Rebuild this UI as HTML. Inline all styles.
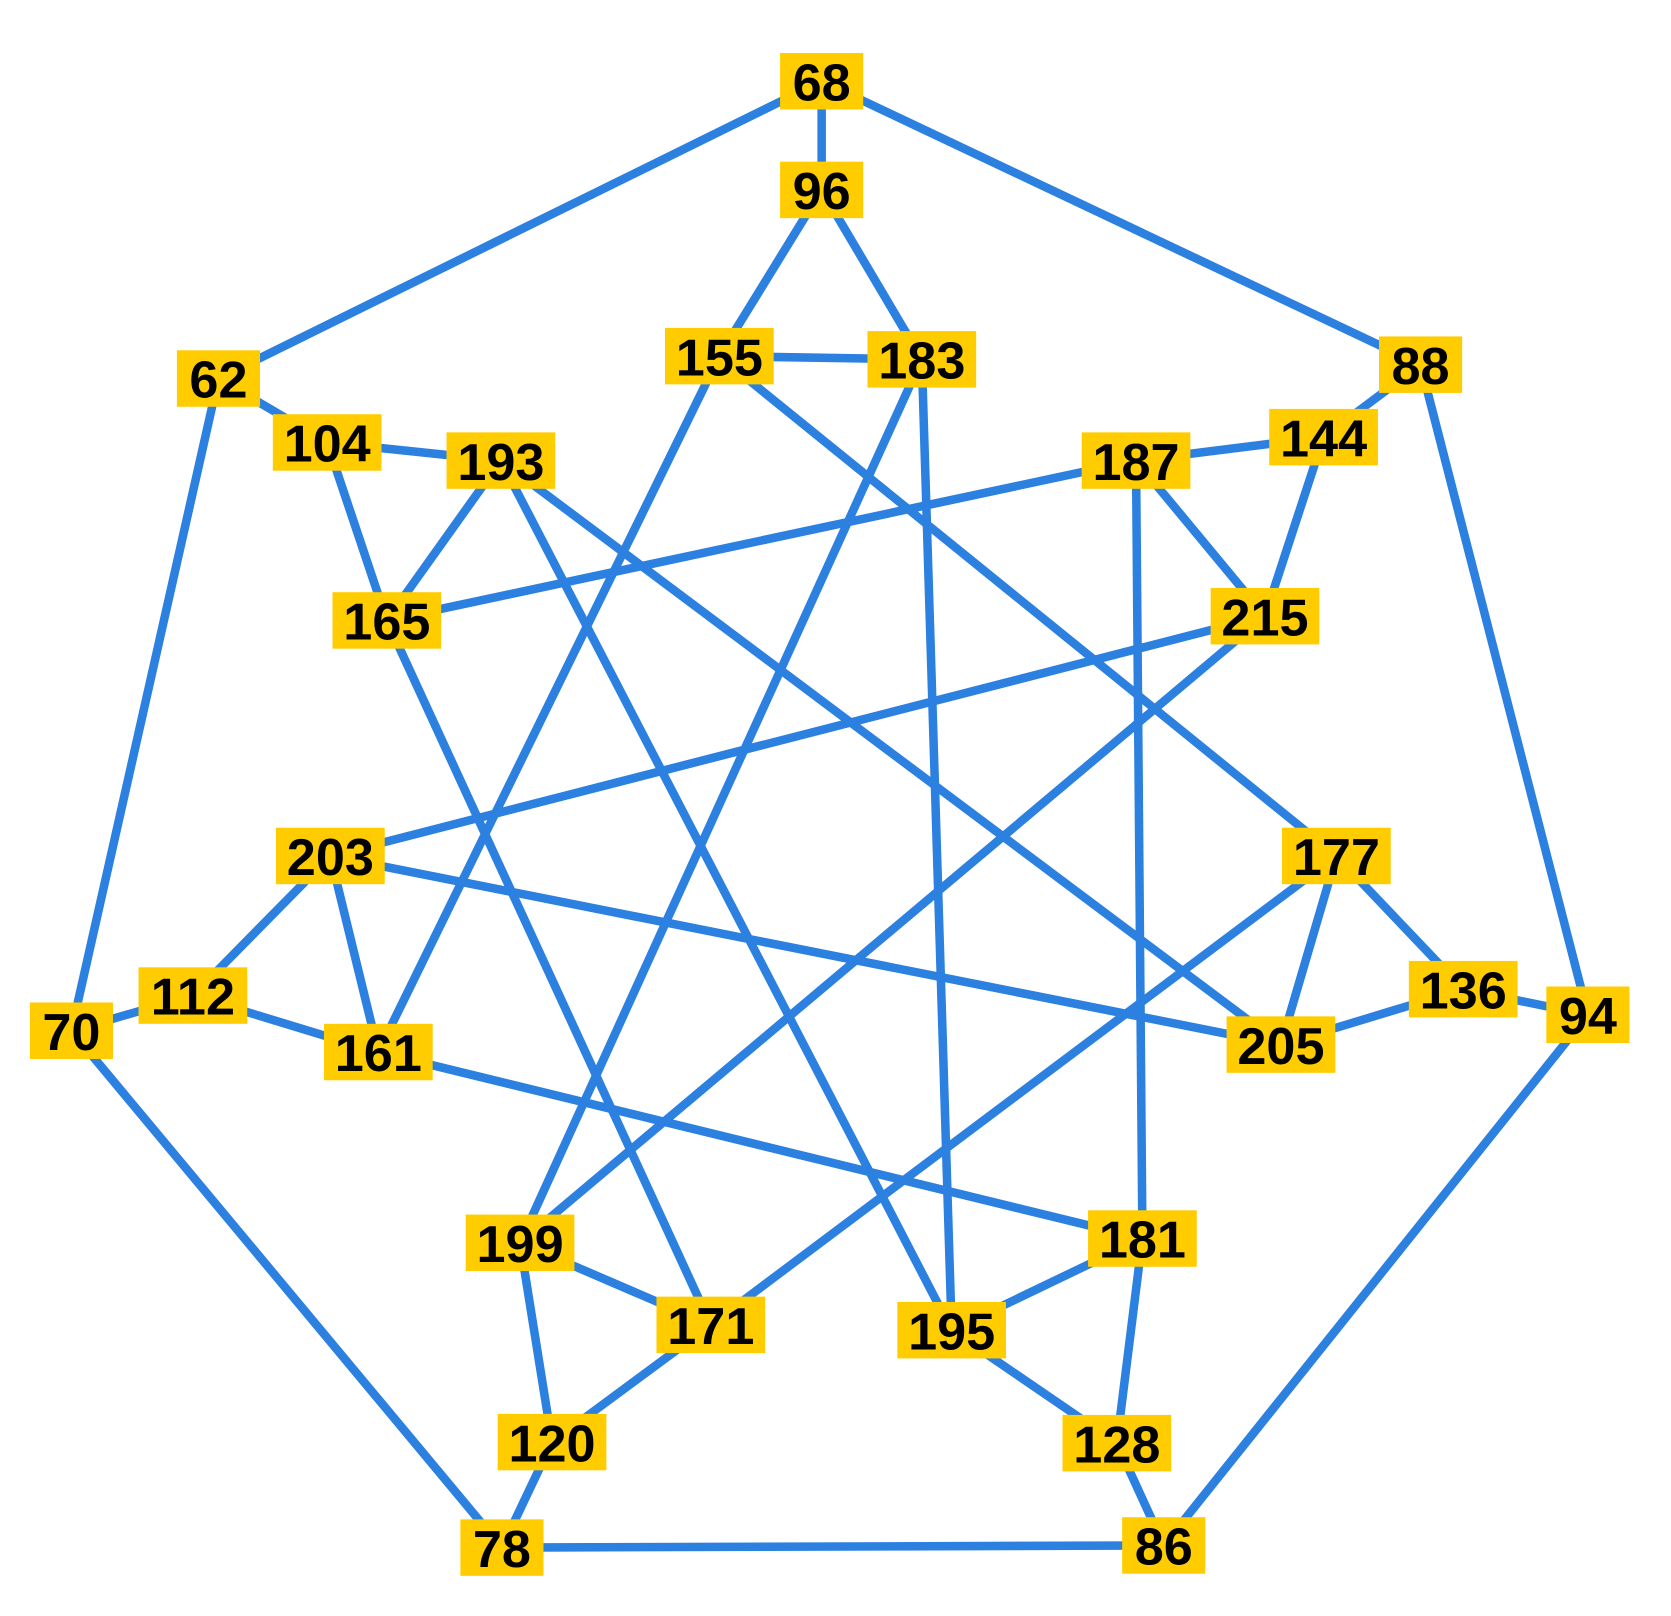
<!DOCTYPE html>
<html><head><meta charset="utf-8"><style>
html,body{margin:0;padding:0;background:#fff;}
svg{display:block;}
text{font-family:"Liberation Sans",sans-serif;font-size:49px;font-weight:bold;fill:#000;}
</style></head><body>
<svg id="g" width="1671" height="1616" viewBox="0 0 1568 1516" xmlns="http://www.w3.org/2000/svg">
<g id="edges"></g>
<g id="nodes"></g>
</svg>
<script>
const nodeIds = ["68","96","62","88","155","183","104","193","187","144","165","215","203","177","112","70","161","136","94","205","199","181","171","195","120","128","78","86"];
const nodeX = [771,771,205,1333,675,865,307,470,1066,1242,363,1187,310,1254,181,67,355,1373,1490,1202,488,1072,667,893,518,1048,471,1092];
const nodeY = [76,178,355,342,334,337,415,432,432,410,582,578,803,803,934,967,987,928,952,980,1166,1162,1243,1248,1353,1354,1452,1450];
const edgeFrom = ["68","68","68","96","96","155","155","155","183","183","62","62","88","88","104","104","165","193","193","193","187","187","187","187","144","215","215","203","203","203","177","177","177","112","112","161","136","136","94","199","199","181","181","171","195","120","128","78","70"];
const edgeTo = ["96","62","88","155","183","183","161","177","199","195","104","70","144","94","193","165","171","165","195","205","144","165","215","181","215","203","199","112","161","205","205","136","171","70","161","181","205","94","86","171","120","195","128","120","128","78","86","86","78"];
const NS="http://www.w3.org/2000/svg";
const idx = id => nodeIds.indexOf(id);
const eg=document.getElementById('edges'), ng=document.getElementById('nodes');
edgeFrom.forEach((a,i)=>{
  const p=idx(a), q=idx(edgeTo[i]);
  const l=document.createElementNS(NS,'line');
  l.setAttribute('x1',nodeX[p]);l.setAttribute('y1',nodeY[p]);
  l.setAttribute('x2',nodeX[q]);l.setAttribute('y2',nodeY[q]);
  l.setAttribute('stroke','#2b80e0');l.setAttribute('stroke-width','8');
  
  
  eg.appendChild(l);
});
nodeIds.forEach((id,i)=>{
  const w = id.length===2?78:102, h=53;
  const g=document.createElementNS(NS,'g');
  
  
  const r=document.createElementNS(NS,'rect');
  r.setAttribute('x',nodeX[i]-w/2);r.setAttribute('y',nodeY[i]-h/2);
  r.setAttribute('width',w);r.setAttribute('height',h);r.setAttribute('fill','#ffcc00');
  
  
  const t=document.createElementNS(NS,'text');
  t.setAttribute('x',nodeX[i]);t.setAttribute('y',nodeY[i]+18);
  t.setAttribute('text-anchor','middle');
  t.textContent=id;
  
  
  g.appendChild(r);g.appendChild(t);ng.appendChild(g);
});
</script>
</body></html>
